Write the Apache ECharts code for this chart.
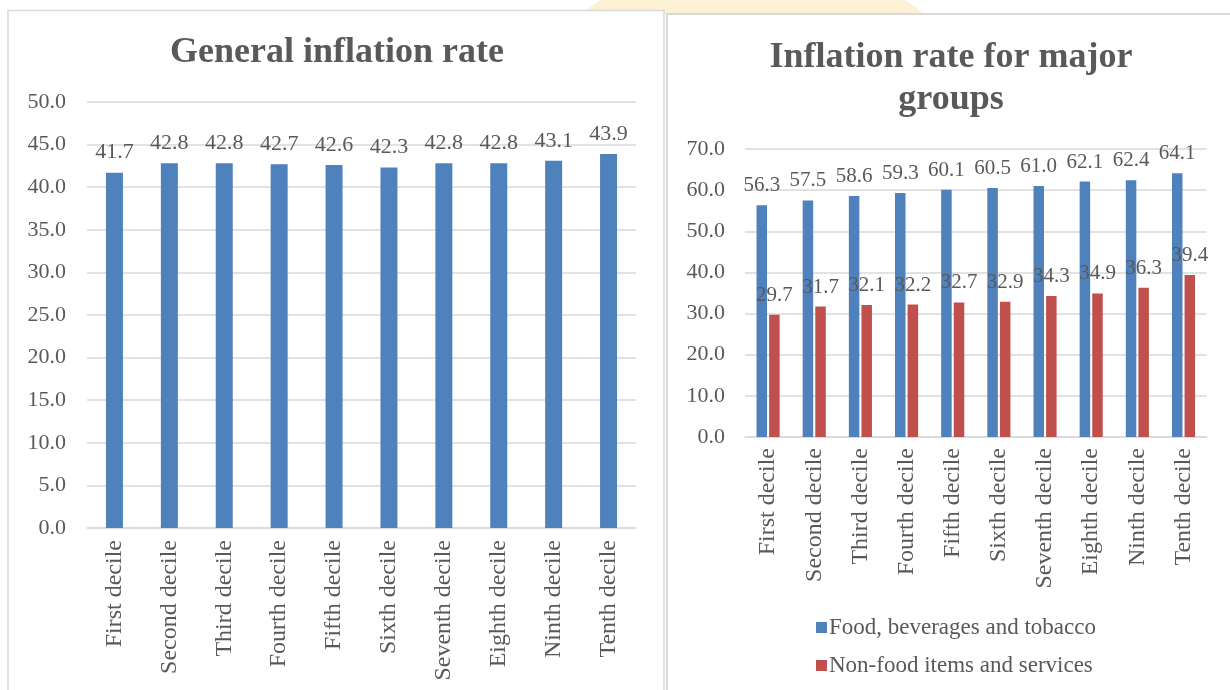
<!DOCTYPE html>
<html><head><meta charset="utf-8">
<script src="https://cdn.jsdelivr.net/npm/echarts/dist/echarts.min.js"></script>
<style>html,body{margin:0;padding:0;background:#fff}#c{width:1230px;height:690px}</style>
</head><body><div id="c"></div>
<script>
const categories = ['First decile','Second decile','Third decile','Fourth decile','Fifth decile','Sixth decile','Seventh decile','Eighth decile','Ninth decile','Tenth decile'];
const generalRate = [41.7,42.8,42.8,42.7,42.6,42.3,42.8,42.8,43.1,43.9];
const foodRate = [56.3,57.5,58.6,59.3,60.1,60.5,61.0,62.1,62.4,64.1];
const nonFoodRate = [29.7,31.7,32.1,32.2,32.7,32.9,34.3,34.9,36.3,39.4];
const seriesNames = ['Food, beverages and tobacco','Non-food items and services'];
const titles = ['General inflation rate','Inflation rate for major\ngroups'];

const FONT = "'Liberation Serif','Times New Roman',serif";
const TXT = '#595959';
const GRID = '#d9d9d9';
const BLUE = '#4f81bd', RED = '#c0504d';

const chart = echarts.init(document.getElementById('c'), null, {renderer:'canvas'});
const yAxisCommon = {
  type:'value', min:0,
  axisLine:{show:false}, axisTick:{show:false},
  splitLine:{lineStyle:{color:GRID,width:1.5}},
  axisLabel:{color:TXT,fontFamily:FONT,fontSize:22,formatter:v=>v.toFixed(1)}
};
const xAxisCommon = {
  type:'category', data:categories,
  axisLine:{lineStyle:{color:GRID,width:1.5}}, axisTick:{show:false},
  axisLabel:{color:TXT,fontFamily:FONT,fontSize:24,rotate:90,interval:0}
};
const labelCommon = {show:true,position:'top',distance:9,color:TXT,fontFamily:FONT,fontSize:22,formatter:p=>p.value.toFixed(1)};

chart.setOption({
  animation:false,
  backgroundColor:'#fff',
  graphic:[
    {type:'polygon',z:-20,shape:{points:[[600,0],[905,0],[925,14],[580,14]]},style:{fill:'#fdf1d5'}},
    {type:'rect',z:-10,shape:{x:8,y:10.5,width:656,height:700},style:{fill:'#fff',stroke:GRID,lineWidth:1.5}},
    {type:'rect',z:-10,shape:{x:667,y:14,width:600,height:700},style:{fill:'#fff',stroke:GRID,lineWidth:2}},
    {type:'text',z:10,x:337,y:53,style:{text:titles[0],font:"bold 36px "+FONT,fill:TXT,align:'center',verticalAlign:'middle'}},
    {type:'text',z:10,x:951,y:79,style:{text:titles[1],font:"bold 36px "+FONT,fill:TXT,align:'center',verticalAlign:'middle',lineHeight:42}}
  ],
  legend:{
    orient:'vertical', left:811, top:611, itemWidth:11, itemHeight:11, itemGap:15,
    icon:'rect', data:seriesNames,
    textStyle:{color:TXT,fontFamily:FONT,fontSize:23,padding:[0,0,0,-3]}
  },
  grid:[
    {left:87,right:594,top:102,bottom:162},
    {left:745,right:23.4,top:149,bottom:253}
  ],
  xAxis:[
    Object.assign({gridIndex:0},xAxisCommon,{axisLabel:Object.assign({},xAxisCommon.axisLabel,{margin:12})}),
    Object.assign({gridIndex:1},xAxisCommon,{axisLabel:Object.assign({},xAxisCommon.axisLabel,{margin:11})})
  ],
  yAxis:[
    Object.assign({gridIndex:0},yAxisCommon,{max:50,interval:5,axisLabel:Object.assign({},yAxisCommon.axisLabel,{margin:21})}),
    Object.assign({gridIndex:1},yAxisCommon,{max:70,interval:10,axisLabel:Object.assign({},yAxisCommon.axisLabel,{margin:20})})
  ],
  series:[
    {type:'bar',name:'General',xAxisIndex:0,yAxisIndex:0,data:generalRate,barWidth:17,itemStyle:{color:BLUE},label:labelCommon},
    {type:'bar',name:seriesNames[0],xAxisIndex:1,yAxisIndex:1,data:foodRate,barWidth:10.5,barGap:'20%',itemStyle:{color:BLUE},label:Object.assign({},labelCommon,{fontSize:21})},
    {type:'bar',name:seriesNames[1],xAxisIndex:1,yAxisIndex:1,data:nonFoodRate,barWidth:10.5,barGap:'20%',itemStyle:{color:RED},label:Object.assign({},labelCommon,{fontSize:21})}
  ]
});
</script></body></html>
